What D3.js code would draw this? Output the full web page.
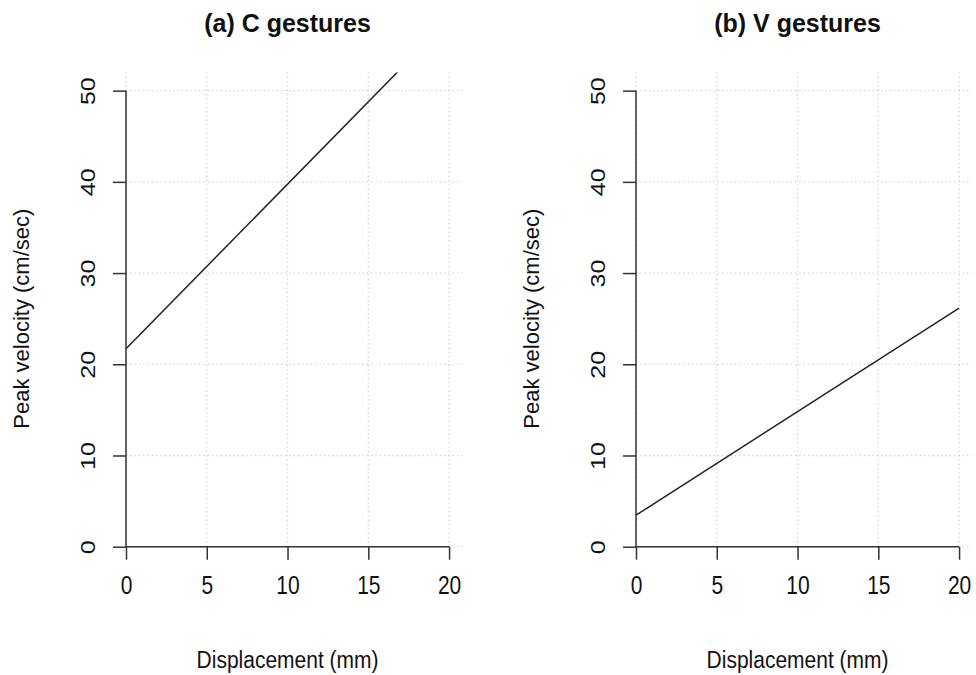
<!DOCTYPE html>
<html>
<head>
<meta charset="utf-8">
<script src="https://cdn.jsdelivr.net/npm/d3@7"></script>
<style>
  html, body { margin: 0; padding: 0; background: #fff; }
  svg { display: block; font-family: "Liberation Sans", Arial, Helvetica, sans-serif; }
</style>
</head>
<body>
<svg id="chart" width="976" height="675"></svg>
<script>
// ---- data ----
const panelTitles = ["(a) C gestures", "(b) V gestures"];
const xTicks = [0, 5, 10, 15, 20];
const yTicks = [0, 10, 20, 30, 40, 50];
const xLabel = "Displacement (mm)";
const yLabel = "Peak velocity (cm/sec)";
// fitted regression line endpoints (displacement mm -> peak velocity cm/sec)
const lineX0 = [0, 0];
const lineX1 = [20, 20];
const lineY0 = [21.7, 3.45];
const lineY1 = [57.8, 26.15];

// ---- layout ----
const svg = d3.select("#chart");
const panelOffset = [0, 510];
const xRange = [126, 462];
const yRange = [546.7, 72.4];
const xDomain = [0, 20.8];
const yDomain = [0, 52];

panelTitles.forEach((title, i) => {
  const g = svg.append("g").attr("transform", `translate(${panelOffset[i]},0)`);
  const x = d3.scaleLinear().domain(xDomain).range(xRange);
  const y = d3.scaleLinear().domain(yDomain).range(yRange);

  const clipId = "clip" + i;
  g.append("clipPath").attr("id", clipId)
    .append("rect")
    .attr("x", x(-0.8)).attr("y", y(52))
    .attr("width", x(20.8) - x(-0.8)).attr("height", y(-2) - y(52));

  // grid
  const grid = g.append("g").attr("stroke", "#d0d0d0").attr("stroke-width", 1.3)
    .attr("stroke-dasharray", "1.3,3");
  grid.selectAll("line.v").data(xTicks).join("line")
    .attr("x1", d => x(d)).attr("x2", d => x(d))
    .attr("y1", y(0)).attr("y2", y(52));
  grid.selectAll("line.h").data(yTicks).join("line")
    .attr("y1", d => y(d)).attr("y2", d => y(d))
    .attr("x1", x(0)).attr("x2", x(20.8));

  // regression line
  g.append("line")
    .attr("clip-path", `url(#${clipId})`)
    .attr("x1", x(lineX0[i])).attr("y1", y(lineY0[i]))
    .attr("x2", x(lineX1[i])).attr("y2", y(lineY1[i]))
    .attr("stroke", "#222").attr("stroke-width", 1.5);

  // x axis
  const xa = g.append("g").attr("transform", `translate(0,${y(0)})`)
    .call(d3.axisBottom(x).tickValues(xTicks).tickSize(13).tickSizeOuter(0).tickPadding(6));
  xa.select(".domain").attr("d", `M${x(0)},0H${x(20)}`).attr("stroke", "#333").attr("stroke-width", 1.5);
  xa.selectAll(".tick line").attr("stroke", "#333").attr("stroke-width", 1.5);
  xa.selectAll(".tick text").attr("fill", "#111").attr("font-size", 21)
    .attr("y", 0).attr("dy", 0).attr("transform", "translate(0,47) scale(1,1.2)");

  // y axis
  const ya = g.append("g").attr("transform", `translate(${x(0)},0)`)
    .call(d3.axisLeft(y).tickValues(yTicks).tickSize(13).tickSizeOuter(0));
  ya.select(".domain").attr("d", `M0,${y(0)}V${y(50)}`).attr("stroke", "#333").attr("stroke-width", 1.5);
  ya.selectAll(".tick line").attr("stroke", "#333").attr("stroke-width", 1.5);
  ya.selectAll(".tick text").attr("fill", "#111").attr("font-size", 20)
    .attr("x", 0).attr("dy", 0).attr("text-anchor", "middle")
    .attr("transform", "translate(-31,0) scale(1,1.25) rotate(-90)");

  // title
  g.append("text")
    .attr("transform", `translate(${(x(-0.8) + x(20.8)) / 2},32) scale(1,1.05)`)
    .attr("text-anchor", "middle").attr("font-weight", "bold").attr("font-size", 25)
    .attr("fill", "#111").text(title);

  // x label
  g.append("text")
    .attr("transform", `translate(${(x(-0.8) + x(20.8)) / 2},668) scale(1,1.15)`)
    .attr("text-anchor", "middle").attr("font-size", 21).attr("fill", "#111")
    .text(xLabel);

  // y label
  g.append("text")
    .attr("transform", `translate(29,${(y(52) + y(-2)) / 2}) rotate(-90)`)
    .attr("text-anchor", "middle").attr("font-size", 22).attr("fill", "#111")
    .text(yLabel);
});
</script>
</body>
</html>
